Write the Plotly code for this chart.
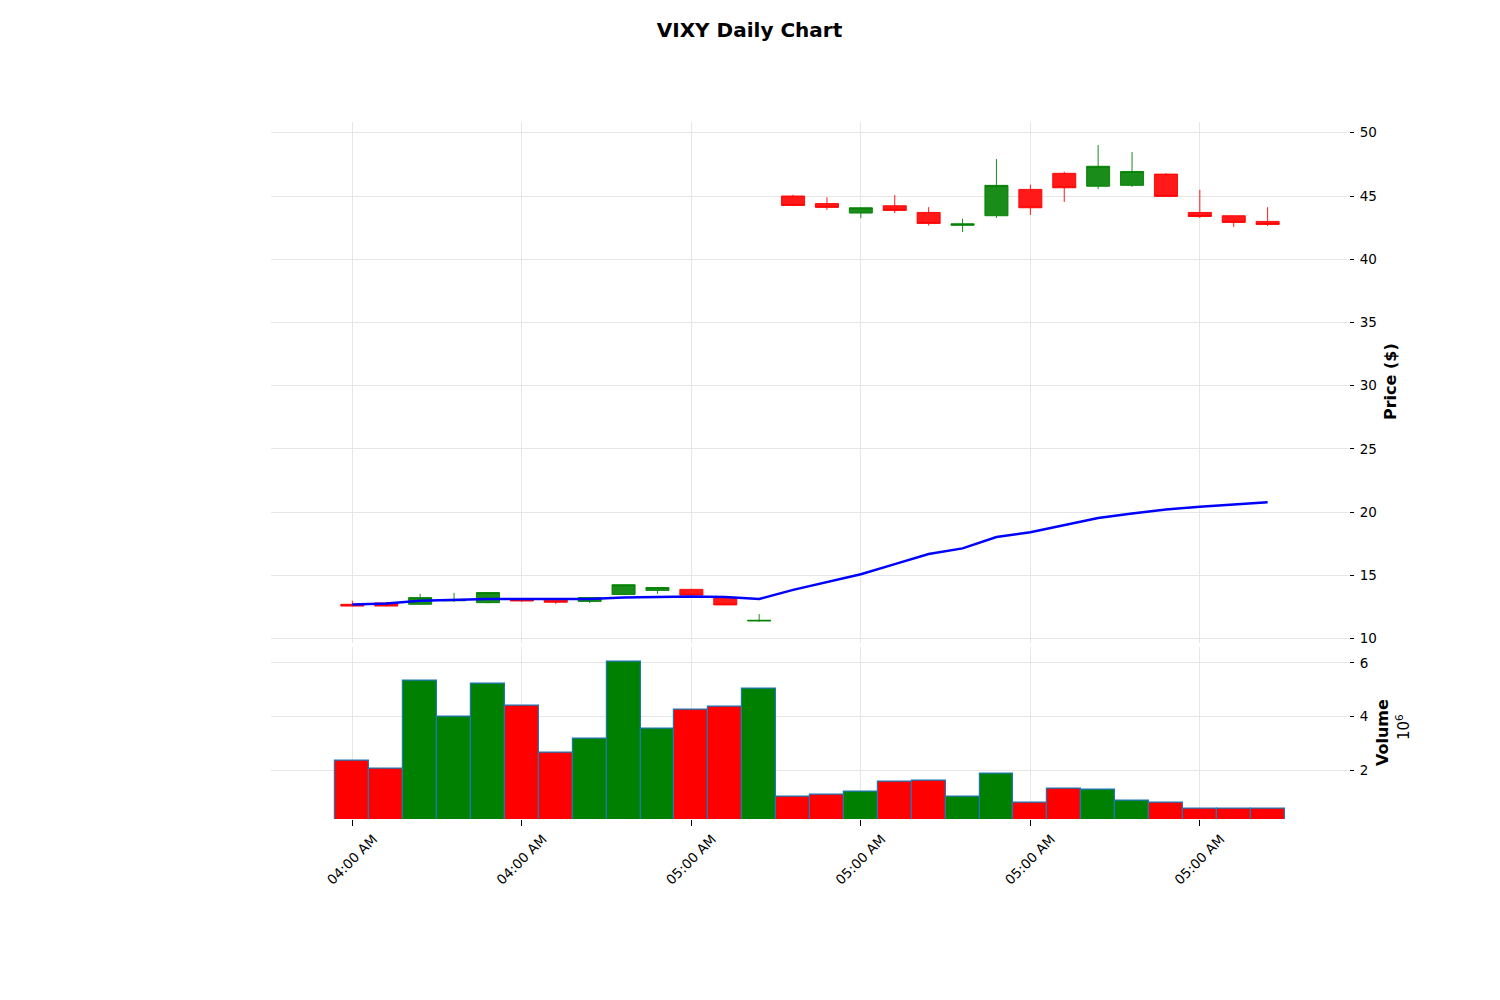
import plotly.graph_objects as go

# candle data
idx = list(range(28))
opens = [12.72, 12.82, 12.72, 13.00, 12.85, 13.15, 13.05, 12.95, 13.50, 13.82, 13.90, 13.20, 11.40,
         45.00, 44.40, 43.65, 44.23, 43.70, 42.68, 43.44, 45.52, 46.79, 45.77, 45.84, 46.73, 43.70, 43.44, 42.99]
highs = [13.00, 12.90, 13.55, 13.63, 13.70, 13.20, 13.10, 13.30, 14.30, 14.08, 13.95, 13.25, 11.95,
         45.10, 44.90, 44.10, 45.07, 44.12, 43.20, 47.92, 45.90, 46.92, 49.03, 48.47, 46.81, 45.48, 43.45, 44.12]
lows = [12.55, 12.55, 12.70, 12.90, 12.80, 12.90, 12.75, 12.82, 13.50, 13.55, 13.40, 12.65, 11.35,
        44.20, 43.90, 43.25, 43.65, 42.67, 42.15, 43.26, 43.50, 44.53, 45.55, 45.72, 44.97, 43.26, 42.55, 42.63]
closes = [12.58, 12.58, 13.25, 13.05, 13.65, 12.98, 12.88, 13.25, 14.27, 14.05, 13.45, 12.67, 11.45,
          44.25, 44.10, 44.07, 43.86, 42.83, 42.80, 45.84, 44.07, 45.65, 47.35, 46.94, 44.97, 43.38, 42.91, 42.75]
volumes = [2.36, 2.06, 5.34, 4.00, 5.23, 4.41, 2.66, 3.18, 6.05, 3.55, 4.26, 4.37, 5.04, 1.02,
           1.09, 1.21, 1.55, 1.62, 1.02, 1.88, 0.80, 1.32, 1.28, 0.87, 0.77, 0.54, 0.57, 0.54]
avg_line = [12.70, 12.78, 13.00, 13.07, 13.14, 13.14, 13.12, 13.14, 13.26, 13.32, 13.34, 13.29, 13.14,
            13.86, 14.49, 15.10, 15.90, 16.69, 17.14, 18.04, 18.41, 18.99, 19.55, 19.89, 20.21, 20.44, 20.63, 20.79]

tick_pos = [0, 5, 10, 15, 20, 25]
tick_labels = ["04:00 AM", "04:00 AM", "05:00 AM", "05:00 AM", "05:00 AM", "05:00 AM"]

vol_scaled = [v * 1e6 for v in volumes]
vol_colors = ["#008000" if c >= o else "#ff0000" for o, c in zip(opens, closes)]

font = "DejaVu Sans"
grid = "#e6e6e6"

fig = go.Figure()

fig.add_trace(go.Candlestick(
    x=idx, open=opens, high=highs, low=lows, close=closes,
    increasing=dict(line=dict(color="rgba(0,128,0,0.9)", width=1), fillcolor="rgba(0,128,0,0.9)"),
    decreasing=dict(line=dict(color="rgba(255,0,0,0.9)", width=1), fillcolor="rgba(255,0,0,0.9)"),
    whiskerwidth=0, xaxis="x", yaxis="y", showlegend=False,
))

fig.add_trace(go.Scatter(
    x=idx, y=avg_line, mode="lines", line=dict(color="#0000ff", width=2.5),
    xaxis="x", yaxis="y", showlegend=False,
))

fig.add_trace(go.Bar(
    x=idx, y=vol_scaled, width=1, marker=dict(color=vol_colors, line=dict(color="#1f77b4", width=1.2)),
    xaxis="x2", yaxis="y2", showlegend=False,
))

xcommon = dict(
    range=[-2.4, 29.4], tickmode="array", tickvals=tick_pos, ticktext=tick_labels,
    showgrid=True, gridcolor=grid, gridwidth=1, zeroline=False, showline=False,
)

# the page puts the figure 8px in from the top-left corner, so margins are trimmed by 8
fig.update_layout(
    width=1500, height=1000,
    paper_bgcolor="white", plot_bgcolor="white",
    margin=dict(l=263, r=159, t=114, b=189),
    font=dict(family=font, size=13, color="black"),
    title=dict(text="<b>VIXY Daily Chart</b>", x=741.5 / 1500, xanchor="center", y=0.978, yanchor="middle",
               font=dict(size=20, family=font, color="black")),
    bargap=0,
    boxgap=0.32, boxgroupgap=0,
    xaxis=dict(**xcommon, anchor="y", domain=[0, 1], showticklabels=False, ticks="",
               rangeslider=dict(visible=False)),
    xaxis2=dict(**xcommon, anchor="y2", domain=[0, 1], matches="x", ticks="outside", ticklen=6,
                tickcolor="black", tickangle=-45, tickfont=dict(size=13.5), ticklabelshift=21),
    yaxis=dict(domain=[0.2525, 1], range=[9.66, 50.85], side="right", anchor="x",
               tickvals=[10, 15, 20, 25, 30, 35, 40, 45, 50], ticks="outside", ticklen=4, tickcolor="black",
               ticklabelstandoff=3,
               showgrid=True, gridcolor=grid, zeroline=False, showline=False, tickfont=dict(size=13.5)),
    yaxis2=dict(domain=[0, 0.2472], range=[0.174e6, 6.6e6], side="right", anchor="x2",
                tickvals=[2e6, 4e6, 6e6], ticktext=["2", "4", "6"], ticks="outside", ticklen=4,
                tickcolor="black", ticklabelstandoff=3, showgrid=True, gridcolor=grid, zeroline=False,
                showline=False, tickfont=dict(size=13.5)),
)

fig.add_annotation(text="<b>Price ($)</b>", xref="paper", yref="paper", x=(1390 - 271) / 1078,
                   y=(819 - 382) / 697, xanchor="center", yanchor="middle", textangle=-90,
                   showarrow=False, font=dict(size=16, family=font))
fig.add_annotation(text="<b>Volume</b>", xref="paper", yref="paper", x=(1382 - 271) / 1078,
                   y=(819 - 733) / 697, xanchor="center", yanchor="middle", textangle=-90,
                   showarrow=False, font=dict(size=16, family=font))
fig.add_annotation(text="10<sup>6</sup>", xref="paper", yref="paper", x=(1403 - 271) / 1078,
                   y=(819 - 727) / 697, xanchor="center", yanchor="middle", textangle=-90,
                   showarrow=False, font=dict(size=15, family=font))

fig.write_html("out.html")
